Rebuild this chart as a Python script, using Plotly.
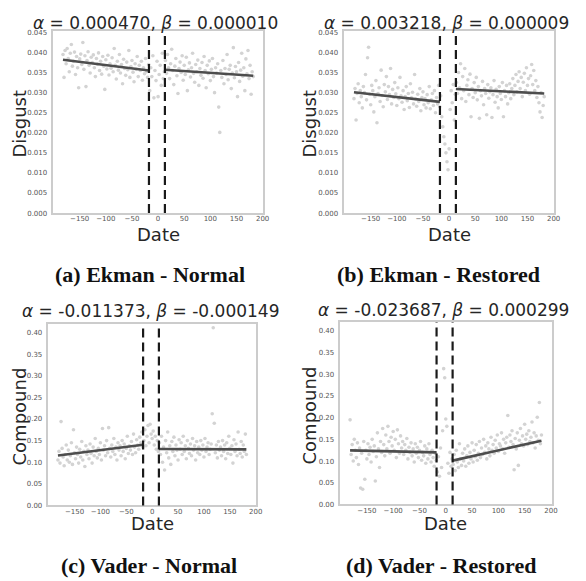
import plotly.graph_objects as go

W, H = 586, 581

# ---------------- data ----------------
days_pre = list(range(-182, -17, 2))   # 83 days before event window
days_win = list(range(-16, 13, 2))     # 15 days inside event window
days_post = list(range(14, 183, 2))    # 85 days after event window
event_window = [-17.5, 13]

# (a) Ekman - Normal : Disgust
a_pre = [0.0395, 0.0338, 0.0405, 0.0372, 0.0410, 0.0385, 0.0352, 0.0398, 0.0420, 0.0366,
         0.0378, 0.0401, 0.0345, 0.0390, 0.0362, 0.0312, 0.0384, 0.0396, 0.0370, 0.0425,
         0.0358, 0.0392, 0.0315, 0.0380, 0.0402, 0.0368, 0.0349, 0.0388, 0.0375, 0.0394,
         0.0362, 0.0340, 0.0385, 0.0371, 0.0399, 0.0355, 0.0378, 0.0346, 0.0390, 0.0366,
         0.0308, 0.0382, 0.0359, 0.0393, 0.0344, 0.0372, 0.0361, 0.0387, 0.0352, 0.0410,
         0.0368, 0.0334, 0.0378, 0.0356, 0.0395, 0.0349, 0.0370, 0.0322, 0.0383, 0.0360,
         0.0343, 0.0376, 0.0357, 0.0405, 0.0338, 0.0365, 0.0380, 0.0351, 0.0327, 0.0372,
         0.0358, 0.0390, 0.0340, 0.0368, 0.0355, 0.0378, 0.0331, 0.0362, 0.0347, 0.0385,
         0.0352, 0.0338, 0.0370]
a_win = [0.0305, 0.0362, 0.0340, 0.0392, 0.0287, 0.0355, 0.0330, 0.0378, 0.0290, 0.0345,
         0.0368, 0.0318, 0.0398, 0.0335, 0.0352]
a_post = [0.0380, 0.0348, 0.0395, 0.0362, 0.0335, 0.0372, 0.0408, 0.0355, 0.0320, 0.0366,
          0.0385, 0.0342, 0.0298, 0.0360, 0.0376, 0.0350, 0.0392, 0.0331, 0.0368, 0.0345,
          0.0388, 0.0305, 0.0357, 0.0374, 0.0339, 0.0362, 0.0398, 0.0348, 0.0326, 0.0370,
          0.0352, 0.0381, 0.0318, 0.0360, 0.0343, 0.0375, 0.0336, 0.0390, 0.0355, 0.0312,
          0.0368, 0.0347, 0.0379, 0.0330, 0.0358, 0.0385, 0.0340, 0.0300, 0.0362, 0.0349,
          0.0372, 0.0264, 0.0201, 0.0355, 0.0338, 0.0380, 0.0322, 0.0360, 0.0345, 0.0395,
          0.0332, 0.0358, 0.0368, 0.0310, 0.0349, 0.0412, 0.0337, 0.0365, 0.0352, 0.0290,
          0.0375, 0.0328, 0.0356, 0.0398, 0.0341, 0.0362, 0.0305, 0.0384, 0.0347, 0.0405,
          0.0335, 0.0368, 0.0296, 0.0352, 0.0340]
a_fit_pre = [0.0382, 0.0355]
a_fit_post = [0.0357, 0.0342]

# (b) Ekman - Restored : Disgust
b_pre = [0.0285, 0.0310, 0.0232, 0.0298, 0.0322, 0.0275, 0.0305, 0.0290, 0.0262, 0.0315,
         0.0300, 0.0345, 0.0282, 0.0387, 0.0413, 0.0296, 0.0270, 0.0318, 0.0305, 0.0252,
         0.0290, 0.0330, 0.0225, 0.0298, 0.0312, 0.0278, 0.0356, 0.0293, 0.0265, 0.0320,
         0.0302, 0.0340, 0.0283, 0.0315, 0.0295, 0.0360, 0.0272, 0.0308, 0.0288, 0.0325,
         0.0297, 0.0268, 0.0312, 0.0285, 0.0338, 0.0292, 0.0276, 0.0305, 0.0258, 0.0290,
         0.0315, 0.0280, 0.0298, 0.0263, 0.0322, 0.0287, 0.0301, 0.0272, 0.0345, 0.0284,
         0.0266, 0.0296, 0.0278, 0.0310, 0.0255, 0.0288, 0.0302, 0.0270, 0.0285, 0.0262,
         0.0295, 0.0275, 0.0315, 0.0260, 0.0282, 0.0298, 0.0268, 0.0305, 0.0250, 0.0288,
         0.0272, 0.0318, 0.0265]
b_win = [0.0292, 0.0240, 0.0215, 0.0190, 0.0172, 0.0150, 0.0128, 0.0108, 0.0160, 0.0258,
         0.0305, 0.0275, 0.0320, 0.0232, 0.0296]
b_post = [0.0325, 0.0298, 0.0350, 0.0312, 0.0372, 0.0285, 0.0340, 0.0305, 0.0360, 0.0278,
          0.0318, 0.0332, 0.0295, 0.0346, 0.0240, 0.0310, 0.0288, 0.0325, 0.0300, 0.0338,
          0.0282, 0.0315, 0.0236, 0.0305, 0.0292, 0.0328, 0.0270, 0.0310, 0.0298, 0.0245,
          0.0320, 0.0286, 0.0302, 0.0312, 0.0238, 0.0295, 0.0330, 0.0276, 0.0308, 0.0290,
          0.0262, 0.0315, 0.0298, 0.0283, 0.0325, 0.0240, 0.0305, 0.0290, 0.0318, 0.0272,
          0.0300, 0.0322, 0.0285, 0.0310, 0.0335, 0.0295, 0.0318, 0.0345, 0.0302, 0.0328,
          0.0352, 0.0310, 0.0338, 0.0290, 0.0326, 0.0348, 0.0305, 0.0362, 0.0318, 0.0335,
          0.0296, 0.0342, 0.0370, 0.0320, 0.0355, 0.0305, 0.0330, 0.0288, 0.0315, 0.0275,
          0.0252, 0.0300, 0.0238, 0.0268, 0.0290]
b_fit_pre = [0.0301, 0.0277]
b_fit_post = [0.0309, 0.0298]

# (c) Vader - Normal : Compound
c_pre = [0.105, 0.125, 0.098, 0.194, 0.132, 0.112, 0.092, 0.118, 0.140, 0.105,
         0.128, 0.100, 0.115, 0.145, 0.095, 0.175, 0.122, 0.108, 0.135, 0.118,
         0.098, 0.130, 0.112, 0.148, 0.105, 0.125, 0.090, 0.138, 0.118, 0.128,
         0.108, 0.142, 0.120, 0.098, 0.135, 0.115, 0.155, 0.125, 0.110, 0.132,
         0.118, 0.145, 0.105, 0.178, 0.128, 0.138, 0.115, 0.150, 0.122, 0.180,
         0.132, 0.112, 0.140, 0.125, 0.155, 0.118, 0.135, 0.105, 0.145, 0.128,
         0.138, 0.115, 0.150, 0.125, 0.142, 0.108, 0.132, 0.160, 0.120, 0.138,
         0.128, 0.148, 0.118, 0.165, 0.135, 0.122, 0.152, 0.140, 0.130, 0.158,
         0.145, 0.170, 0.135]
c_win = [0.150, 0.175, 0.138, 0.160, 0.185, 0.145, 0.188, 0.165, 0.155, 0.172,
         0.140, 0.160, 0.130, 0.150, 0.125]
c_post = [0.145, 0.118, 0.160, 0.100, 0.135, 0.082, 0.150, 0.122, 0.170, 0.110,
          0.138, 0.095, 0.148, 0.125, 0.158, 0.115, 0.140, 0.128, 0.105, 0.152,
          0.130, 0.145, 0.118, 0.160, 0.125, 0.138, 0.108, 0.150, 0.132, 0.120,
          0.142, 0.115, 0.155, 0.128, 0.138, 0.105, 0.148, 0.122, 0.135, 0.118,
          0.150, 0.128, 0.140, 0.112, 0.155, 0.125, 0.135, 0.145, 0.118, 0.130,
          0.142, 0.212, 0.411, 0.190, 0.122, 0.140, 0.110, 0.148, 0.128, 0.135,
          0.115, 0.150, 0.125, 0.140, 0.108, 0.145, 0.120, 0.160, 0.132, 0.118,
          0.138, 0.098, 0.152, 0.125, 0.142, 0.115, 0.170, 0.130, 0.120, 0.148,
          0.112, 0.140, 0.125, 0.165, 0.118]
c_fit_pre = [0.1154, 0.1406]
c_fit_post = [0.1305, 0.1298]

# (d) Vader - Restored : Compound
d_pre = [0.195, 0.115, 0.138, 0.100, 0.150, 0.125, 0.108, 0.142, 0.092, 0.130,
         0.038, 0.118, 0.035, 0.145, 0.058, 0.125, 0.105, 0.140, 0.115, 0.132,
         0.098, 0.150, 0.122, 0.135, 0.054, 0.110, 0.165, 0.128, 0.085, 0.145,
         0.120, 0.175, 0.138, 0.112, 0.160, 0.128, 0.180, 0.145, 0.118, 0.155,
         0.135, 0.168, 0.125, 0.150, 0.108, 0.172, 0.140, 0.118, 0.158, 0.130,
         0.145, 0.115, 0.138, 0.125, 0.152, 0.105, 0.132, 0.120, 0.142, 0.112,
         0.128, 0.098, 0.140, 0.118, 0.132, 0.108, 0.125, 0.145, 0.102, 0.120,
         0.112, 0.135, 0.095, 0.128, 0.105, 0.140, 0.115, 0.098, 0.125, 0.108,
         0.088, 0.118, 0.102]
d_win = [0.075, 0.110, 0.065, 0.130, 0.085, 0.170, 0.313, 0.292, 0.197, 0.180,
         0.095, 0.072, 0.120, 0.088, 0.105]
d_post = [0.092, 0.115, 0.078, 0.125, 0.098, 0.085, 0.140, 0.105, 0.090, 0.118,
          0.100, 0.128, 0.088, 0.112, 0.135, 0.095, 0.120, 0.105, 0.142, 0.098,
          0.125, 0.110, 0.138, 0.102, 0.118, 0.145, 0.108, 0.130, 0.115, 0.150,
          0.120, 0.135, 0.105, 0.142, 0.128, 0.112, 0.155, 0.125, 0.138, 0.118,
          0.148, 0.130, 0.160, 0.122, 0.140, 0.135, 0.165, 0.128, 0.150, 0.118,
          0.142, 0.155, 0.205, 0.132, 0.160, 0.145, 0.170, 0.138, 0.080, 0.152,
          0.128, 0.165, 0.090, 0.148, 0.175, 0.140, 0.158, 0.135, 0.185, 0.150,
          0.162, 0.138, 0.170, 0.145, 0.155, 0.190, 0.142, 0.165, 0.130, 0.158,
          0.201, 0.148, 0.235, 0.140, 0.160]
d_fit_pre = [0.1247, 0.1200]
d_fit_post = [0.1010, 0.1470]

titles = ["<i>α</i> = 0.000470, <i>β</i> = 0.000010",
          "<i>α</i> = 0.003218, <i>β</i> = 0.000009",
          "<i>α</i> = -0.011373, <i>β</i> = -0.000149",
          "<i>α</i> = -0.023687, <i>β</i> = 0.000299"]
ylabels = ["Disgust", "Disgust", "Compound", "Compound"]
captions = ["(a) Ekman - Normal", "(b) Ekman - Restored",
            "(c) Vader - Normal", "(d) Vader - Restored"]
x_ticks = [-150, -100, -50, 0, 50, 100, 150, 200]
y_ticks_ekman = [0.000, 0.005, 0.010, 0.015, 0.020, 0.025, 0.030, 0.035, 0.040, 0.045]
y_ticks_vader = [0.00, 0.05, 0.10, 0.15, 0.20, 0.25, 0.30, 0.35, 0.40]

panels = [
    (a_pre, a_win, a_post, a_fit_pre, a_fit_post),
    (b_pre, b_win, b_post, b_fit_pre, b_fit_post),
    (c_pre, c_win, c_post, c_fit_pre, c_fit_post),
    (d_pre, d_win, d_post, d_fit_pre, d_fit_post),
]

# ---------------- layout (pixels) ----------------
boxes = [  # left, right, top, bottom in px
    (54, 266, 29.5, 213.3),
    (348, 560, 29.5, 213.3),
    (49, 259, 325, 508.7),
    (344, 557.3, 323.3, 507.7),
]
yranges = [[0, 0.0453], [0, 0.0453], [0, 0.4206], [0, 0.4206]]
yticks = [y_ticks_ekman, y_ticks_ekman, y_ticks_vader, y_ticks_vader]
yfmts = [".3f", ".3f", ".2f", ".2f"]
title_pos = [(157, 21), (451, 21), (152.5, 312), (448, 311)]
ylabel_pos = [(20, 123), (313, 123), (20, 419), (313, 418)]
xlabel_pos = [(160, 234.5), (454, 234.5), (154, 526.5), (450.5, 526.5)]
caption_pos = [(151.5, 275), (443, 275), (151, 569), (445.5, 569)]

fx = lambda px: px / W
fy = lambda py: 1 - py / H

fig = go.Figure()
layout = dict(width=W, height=H, margin=dict(l=0, r=0, t=0, b=0),
              paper_bgcolor="white", plot_bgcolor="white", showlegend=False)
annotations = []
shapes = []
tick_font = dict(family="DejaVu Sans", size=7, color="#555555")
text_col = "#262626"

for i, (pre, win, post, fpre, fpost) in enumerate(panels):
    n = "" if i == 0 else str(i + 1)
    xa, ya = "x" + n, "y" + n
    L, R, T, B = boxes[i]
    layout["xaxis" + n] = dict(domain=[fx(L), fx(R)], anchor=ya, range=[-200.25, 201.25],
                               tickvals=x_ticks, ticks="", showgrid=False, zeroline=False,
                               showline=True, mirror=True, linecolor="#cccccc", linewidth=1.6,
                               tickfont=tick_font, ticklabelstandoff=-2)
    layout["yaxis" + n] = dict(domain=[fy(B), fy(T)], anchor=xa, range=yranges[i],
                               tickvals=yticks[i], tickformat=yfmts[i], ticks="",
                               showgrid=False, zeroline=False, showline=True, mirror=True,
                               linecolor="#cccccc", linewidth=1.6, tickfont=tick_font,
                               ticklabelstandoff=3)
    fig.add_trace(go.Scatter(x=days_pre + days_win + days_post, y=pre + win + post,
                             mode="markers", xaxis=xa, yaxis=ya,
                             marker=dict(size=3.6, color="#d3d3d3", line=dict(width=0))))
    fig.add_trace(go.Scatter(x=[days_pre[0], event_window[0]], y=fpre, mode="lines",
                             xaxis=xa, yaxis=ya, line=dict(color="#4d4d4d", width=2.6)))
    fig.add_trace(go.Scatter(x=[event_window[1], days_post[-1]], y=fpost, mode="lines",
                             xaxis=xa, yaxis=ya, line=dict(color="#4d4d4d", width=2.6)))
    for ev in event_window:
        shapes.append(dict(type="line", xref=xa, yref=ya + " domain", x0=ev, x1=ev, y0=0, y1=1,
                           line=dict(color="#1a1a1a", width=2.2, dash="9px,5px")))
    tx, ty = title_pos[i]
    annotations.append(dict(text=titles[i], x=fx(tx), y=fy(ty), xref="paper", yref="paper",
                            showarrow=False, xanchor="center", yanchor="middle",
                            font=dict(family="DejaVu Sans", size=17, color=text_col)))
    lx, ly = ylabel_pos[i]
    annotations.append(dict(text=ylabels[i], x=fx(lx), y=fy(ly), xref="paper", yref="paper",
                            showarrow=False, xanchor="center", yanchor="middle", textangle=-90,
                            font=dict(family="DejaVu Sans", size=18, color=text_col)))
    dx, dy = xlabel_pos[i]
    annotations.append(dict(text="Date", x=fx(dx), y=fy(dy), xref="paper", yref="paper",
                            showarrow=False, xanchor="center", yanchor="middle",
                            font=dict(family="DejaVu Sans", size=18, color=text_col)))
    cx, cy = caption_pos[i]
    annotations.append(dict(text="<b>" + captions[i] + "</b>", x=fx(cx), y=fy(cy),
                            xref="paper", yref="paper", showarrow=False,
                            xanchor="center", yanchor="middle",
                            font=dict(family="Liberation Serif", size=22, color="#111111")))

layout["annotations"] = annotations
layout["shapes"] = shapes
fig.update_layout(**layout)
fig.write_html("out.html", config={"displayModeBar": False},
               post_script="document.body.style.margin='0';document.body.style.overflow='hidden';")
